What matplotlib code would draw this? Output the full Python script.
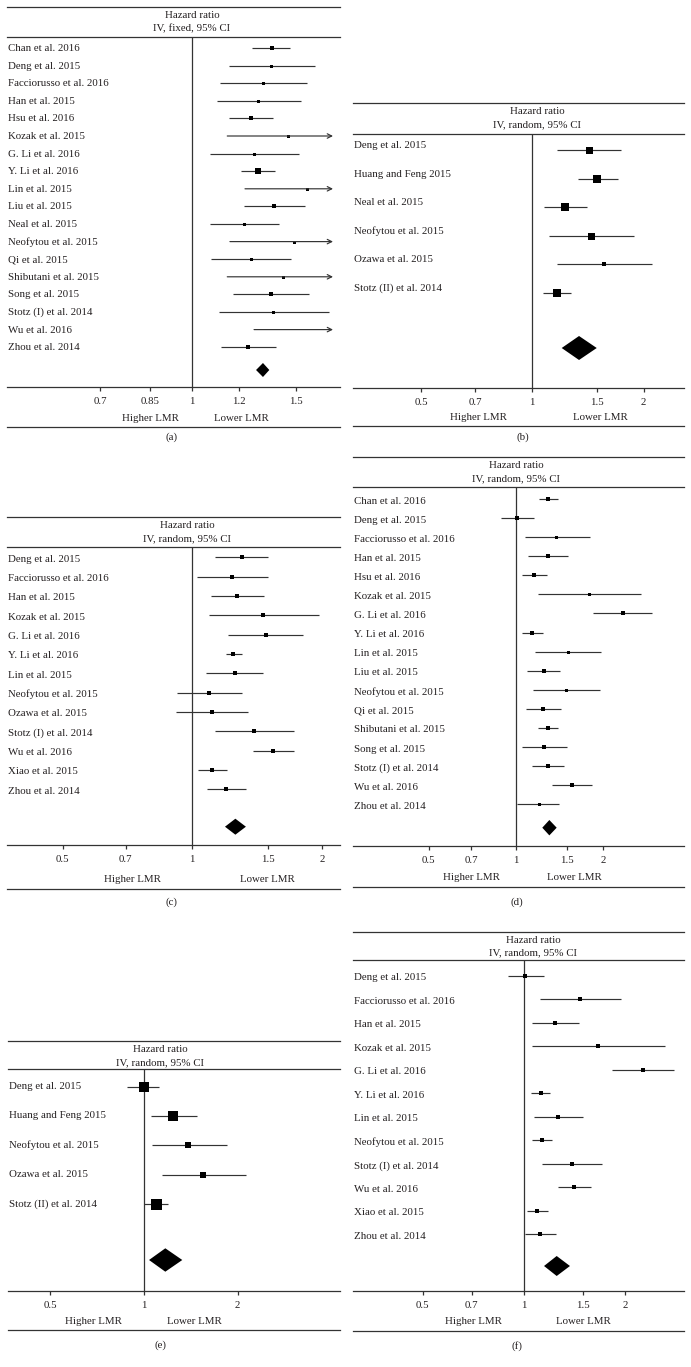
import numpy as np
import matplotlib.pyplot as plt
from matplotlib.ticker import NullLocator

plt.rcParams['font.family'] = ['Liberation Serif', 'DejaVu Serif']
plt.rcParams['font.size'] = 7.8

INK = '#231f20'
LINE = '#333333'
W, H = 691, 1367

# ---- data (hazard ratios) ----
# (a) IV, fixed
a_names = ['Chan et al. 2016', 'Deng et al. 2015', 'Facciorusso et al. 2016', 'Han et al. 2015',
           'Hsu et al. 2016', 'Kozak et al. 2015', 'G. Li et al. 2016', 'Y. Li et al. 2016',
           'Lin et al. 2015', 'Liu et al. 2015', 'Neal et al. 2015', 'Neofytou et al. 2015',
           'Qi et al. 2015', 'Shibutani et al. 2015', 'Song et al. 2015', 'Stotz (I) et al. 2014',
           'Wu et al. 2016', 'Zhou et al. 2014']
a_hr = [1.364, 1.360, 1.320, 1.294, 1.256, 1.455, 1.274, 1.291, 1.566, 1.376, 1.226, 1.487,
        1.256, 1.427, 1.360, 1.372, 1.950, 1.245]
a_lo = [1.264, 1.153, 1.116, 1.102, 1.156, 1.147, 1.073, 1.209, 1.229, 1.223, 1.073, 1.159,
        1.077, 1.147, 1.174, 1.110, 1.273, 1.119]
a_hi = [1.464, 1.614, 1.563, 1.526, 1.369, 2.050, 1.516, 1.383, 2.000, 1.554, 1.404, 1.910,
        1.470, 1.780, 1.577, 1.704, 3.000, 1.387]
a_w = [5, 3, 3, 3, 4, 3, 3, 6, 3, 3.5, 3, 3, 3, 3, 3.5, 3, 3, 3.5]
a_pool = [1.318, 1.283, 1.351]
a_ticks = [0.7, 0.85, 1, 1.2, 1.5]
a_ticklabels = ['0.7', '0.85', '1', '1.2', '1.5']

# (b)
b_names = ['Deng et al. 2015', 'Huang and Feng 2015', 'Neal et al. 2015',
           'Neofytou et al. 2015', 'Ozawa et al. 2015', 'Stotz (II) et al. 2014']
b_hr = [1.426, 1.499, 1.226, 1.439, 1.566, 1.164]
b_lo = [1.169, 1.332, 1.078, 1.112, 1.169, 1.067]
b_hi = [1.737, 1.703, 1.403, 1.881, 2.104, 1.270]
b_w = [7, 8, 8, 7, 5, 8.5]
b_pool = [1.338, 1.201, 1.494]

# (c)
c_names = ['Deng et al. 2015', 'Facciorusso et al. 2016', 'Han et al. 2015', 'Kozak et al. 2015',
           'G. Li et al. 2016', 'Y. Li et al. 2016', 'Lin et al. 2015', 'Neofytou et al. 2015',
           'Ozawa et al. 2015', 'Stotz (I) et al. 2014', 'Wu et al. 2016', 'Xiao et al. 2015',
           'Zhou et al. 2014']
c_hr = [1.302, 1.239, 1.270, 1.462, 1.481, 1.245, 1.254, 1.092, 1.113, 1.393, 1.542, 1.113, 1.197]
c_lo = [1.129, 1.027, 1.105, 1.095, 1.212, 1.197, 1.076, 0.923, 0.918, 1.127, 1.386, 1.033, 1.080]
c_hi = [1.501, 1.496, 1.467, 1.969, 1.810, 1.302, 1.462, 1.302, 1.349, 1.720, 1.726, 1.204, 1.331]
c_w = [4, 3.5, 4, 3.5, 4, 5, 4, 4, 4, 3.5, 4, 4, 4]
c_pool = [1.259, 1.191, 1.332]

# (d)
d_names = ['Chan et al. 2016', 'Deng et al. 2015', 'Facciorusso et al. 2016', 'Han et al. 2015',
           'Hsu et al. 2016', 'Kozak et al. 2015', 'G. Li et al. 2016', 'Y. Li et al. 2016',
           'Lin et al. 2015', 'Liu et al. 2015', 'Neofytou et al. 2015', 'Qi et al. 2015',
           'Shibutani et al. 2015', 'Song et al. 2015', 'Stotz (I) et al. 2014', 'Wu et al. 2016',
           'Zhou et al. 2014']
d_hr = [1.292, 1.010, 1.374, 1.292, 1.154, 1.789, 2.332, 1.138, 1.507, 1.249, 1.487, 1.242,
        1.286, 1.249, 1.286, 1.556, 1.200]
d_lo = [1.200, 0.886, 1.074, 1.097, 1.046, 1.194, 1.847, 1.046, 1.163, 1.094, 1.142, 1.083,
        1.194, 1.046, 1.133, 1.328, 1.005]
d_hi = [1.399, 1.156, 1.799, 1.507, 1.276, 2.690, 2.935, 1.242, 1.963, 1.418, 1.948, 1.426,
        1.399, 1.503, 1.464, 1.832, 1.410]
d_w = [3.5, 4, 3, 3.5, 3.5, 3, 3.5, 3.5, 3, 3.5, 3, 3.5, 3.5, 3.5, 3.5, 3.5, 3]
d_pool = [1.303, 1.232, 1.381]

# (e)
e_names = ['Deng et al. 2015', 'Huang and Feng 2015', 'Neofytou et al. 2015',
           'Ozawa et al. 2015', 'Stotz (II) et al. 2014']
e_hr = [1.000, 1.242, 1.388, 1.545, 1.093]
e_lo = [0.880, 1.053, 1.059, 1.145, 1.002]
e_hi = [1.120, 1.477, 1.845, 2.124, 1.192]
e_w = [10, 9.5, 6.5, 6.5, 11]
e_pool = [1.171, 1.038, 1.328]
e_ticks = [0.5, 1, 2]
e_ticklabels = ['0.5', '1', '2']

# (f)
f_names = ['Deng et al. 2015', 'Facciorusso et al. 2016', 'Han et al. 2015', 'Kozak et al. 2015',
           'G. Li et al. 2016', 'Y. Li et al. 2016', 'Lin et al. 2015', 'Neofytou et al. 2015',
           'Stotz (I) et al. 2014', 'Wu et al. 2016', 'Xiao et al. 2015', 'Zhou et al. 2014']
f_hr = [1.007, 1.468, 1.234, 1.657, 2.255, 1.121, 1.260, 1.129, 1.386, 1.411, 1.095, 1.116]
f_lo = [0.898, 1.113, 1.056, 1.056, 1.823, 1.051, 1.069, 1.056, 1.129, 1.265, 1.018, 1.007]
f_hi = [1.147, 1.940, 1.457, 2.627, 2.788, 1.192, 1.495, 1.209, 1.703, 1.582, 1.181, 1.248]
f_w = [4, 3.5, 5, 3.5, 4.5, 4.5, 4, 4.5, 3.5, 4.5, 5, 4.5]
f_pool = [1.251, 1.147, 1.370]

std_ticks = [0.5, 0.7, 1, 1.5, 2]
std_ticklabels = ['0.5', '0.7', '1', '1.5', '2']

# ---- panel geometry in pixels ----
layouts = {
    'a': dict(x0=7, x1=340, top=7, hdr=37, axis=387, bottom=427, xv=192, k=257, row0=48,
              step=17.6, dia=370, dh=7, clip=333, head=192, ldy=0.5, hi_x=150, lo_x=241,
              hl_y=418, cap=(171, 437)),
    'b': dict(x0=353, x1=684, top=103, hdr=134, axis=388, bottom=426, xv=532.3, k=160.5,
              row0=150, step=28.6, dia=348, dh=12, clip=None, head=537, ldy=-4.5, hi_x=478,
              lo_x=600, hl_y=417, cap=(523, 437)),
    'c': dict(x0=7, x1=340, top=517, hdr=547, axis=845, bottom=889, xv=192.3, k=187,
              row0=557.3, step=19.33, dia=826.7, dh=8, clip=None, head=187, ldy=2, hi_x=132,
              lo_x=267, hl_y=880, cap=(171, 902)),
    'd': dict(x0=353, x1=684, top=457.3, hdr=487, axis=845.7, bottom=887, xv=516, k=126,
              row0=499, step=19.08, dia=827.7, dh=7.7, clip=None, head=516, ldy=2, hi_x=471,
              lo_x=574, hl_y=878, cap=(517, 902)),
    'e': dict(x0=8, x1=340, top=1041, hdr=1069.3, axis=1291, bottom=1330, xv=144, k=135,
              row0=1086.7, step=29.3, dia=1260, dh=11.7, clip=None, head=160, ldy=0, hi_x=93,
              lo_x=194, hl_y=1322, cap=(160, 1345)),
    'f': dict(x0=353, x1=684, top=931.7, hdr=960, axis=1290.7, bottom=1330.7, xv=524, k=146,
              row0=975.7, step=23.5, dia=1266, dh=10, clip=None, head=533, ldy=2, hi_x=473,
              lo_x=583, hl_y=1322, cap=(517, 1346)),
}

fig = plt.figure(figsize=(W / 100, H / 100), dpi=100)


def draw_panel(key, names, hr, lo, hi, w, pool, method, ticks, ticklabels):
    L = layouts[key]
    x0, x1 = L['x0'], L['x1']
    top, bottom = L['top'], L['bottom']
    ax = fig.add_axes([x0 / W, 1 - bottom / H, (x1 - x0) / W, (bottom - top) / H])
    ax.set_xscale('log')
    xmin = np.exp((x0 - L['xv']) / L['k'])
    xmax = np.exp((x1 - L['xv']) / L['k'])
    ax.set_xlim(xmin, xmax)
    ax.set_ylim(bottom, top)

    def fx(px):
        return (px - x0) / (x1 - x0)

    tr = ax.get_yaxis_transform()  # x in axes fraction, y in data (pixels)

    # rules
    for yy in (top, L['hdr'], bottom):
        ax.axhline(yy, color=LINE, lw=0.9, clip_on=False)
    ax.vlines(1, L['hdr'], L['axis'], color=LINE, lw=0.9)

    # header
    ax.text(fx(L['head']), top + 8.5, 'Hazard ratio', transform=tr, ha='center', va='center', color=INK)
    ax.text(fx(L['head']), top + 21.5, method, transform=tr, ha='center', va='center', color=INK)

    clipv = np.exp((L['clip'] - L['xv']) / L['k']) if L['clip'] else xmax
    for i, name in enumerate(names):
        y = L['row0'] + i * L['step']
        ax.text(fx(x0 + 1), y + L['ldy'], name, transform=tr, ha='left', va='center', color=INK)
        if hi[i] > clipv:
            ax.annotate('', xy=(clipv, y), xytext=(lo[i], y),
                        arrowprops=dict(arrowstyle='->', color=LINE, lw=0.85,
                                        shrinkA=0, shrinkB=0, mutation_scale=8))
        else:
            ax.hlines(y, lo[i], hi[i], color=LINE, lw=0.85)
        ax.plot(hr[i], y, 's', ms=w[i] * 0.72, color='black', mew=0)

    # pooled diamond
    p, pl, ph = pool
    dy, dh = L['dia'], L['dh']
    ax.fill([pl, p, ph, p], [dy, dy - dh, dy, dy + dh], color='black', lw=0)

    # x axis
    for s in ('left', 'right', 'top'):
        ax.spines[s].set_visible(False)
    ax.spines['bottom'].set_position(('data', L['axis']))
    ax.spines['bottom'].set_color(LINE)
    ax.spines['bottom'].set_linewidth(0.9)
    ax.set_yticks([])
    ax.set_xticks(ticks)
    ax.set_xticklabels(ticklabels)
    ax.xaxis.set_minor_locator(NullLocator())
    ax.tick_params(axis='x', direction='out', length=3, width=0.9, color=LINE,
                   pad=4.5, labelsize=7.8, labelcolor=INK)
    ax.patch.set_visible(False)

    ax.text(fx(L['hi_x']), L['hl_y'], 'Higher LMR', transform=tr, ha='center', va='center', color=INK)
    ax.text(fx(L['lo_x']), L['hl_y'], 'Lower LMR', transform=tr, ha='center', va='center', color=INK)
    cx, cy = L['cap']
    ax.text(fx(cx), cy, '(%s)' % key, transform=tr, ha='center', va='center', color=INK)


draw_panel('a', a_names, a_hr, a_lo, a_hi, a_w, a_pool, 'IV, fixed, 95% CI', a_ticks, a_ticklabels)
draw_panel('b', b_names, b_hr, b_lo, b_hi, b_w, b_pool, 'IV, random, 95% CI', std_ticks, std_ticklabels)
draw_panel('c', c_names, c_hr, c_lo, c_hi, c_w, c_pool, 'IV, random, 95% CI', std_ticks, std_ticklabels)
draw_panel('d', d_names, d_hr, d_lo, d_hi, d_w, d_pool, 'IV, random, 95% CI', std_ticks, std_ticklabels)
draw_panel('e', e_names, e_hr, e_lo, e_hi, e_w, e_pool, 'IV, random, 95% CI', e_ticks, e_ticklabels)
draw_panel('f', f_names, f_hr, f_lo, f_hi, f_w, f_pool, 'IV, random, 95% CI', std_ticks, std_ticklabels)

fig.savefig('out.png', dpi=100)
